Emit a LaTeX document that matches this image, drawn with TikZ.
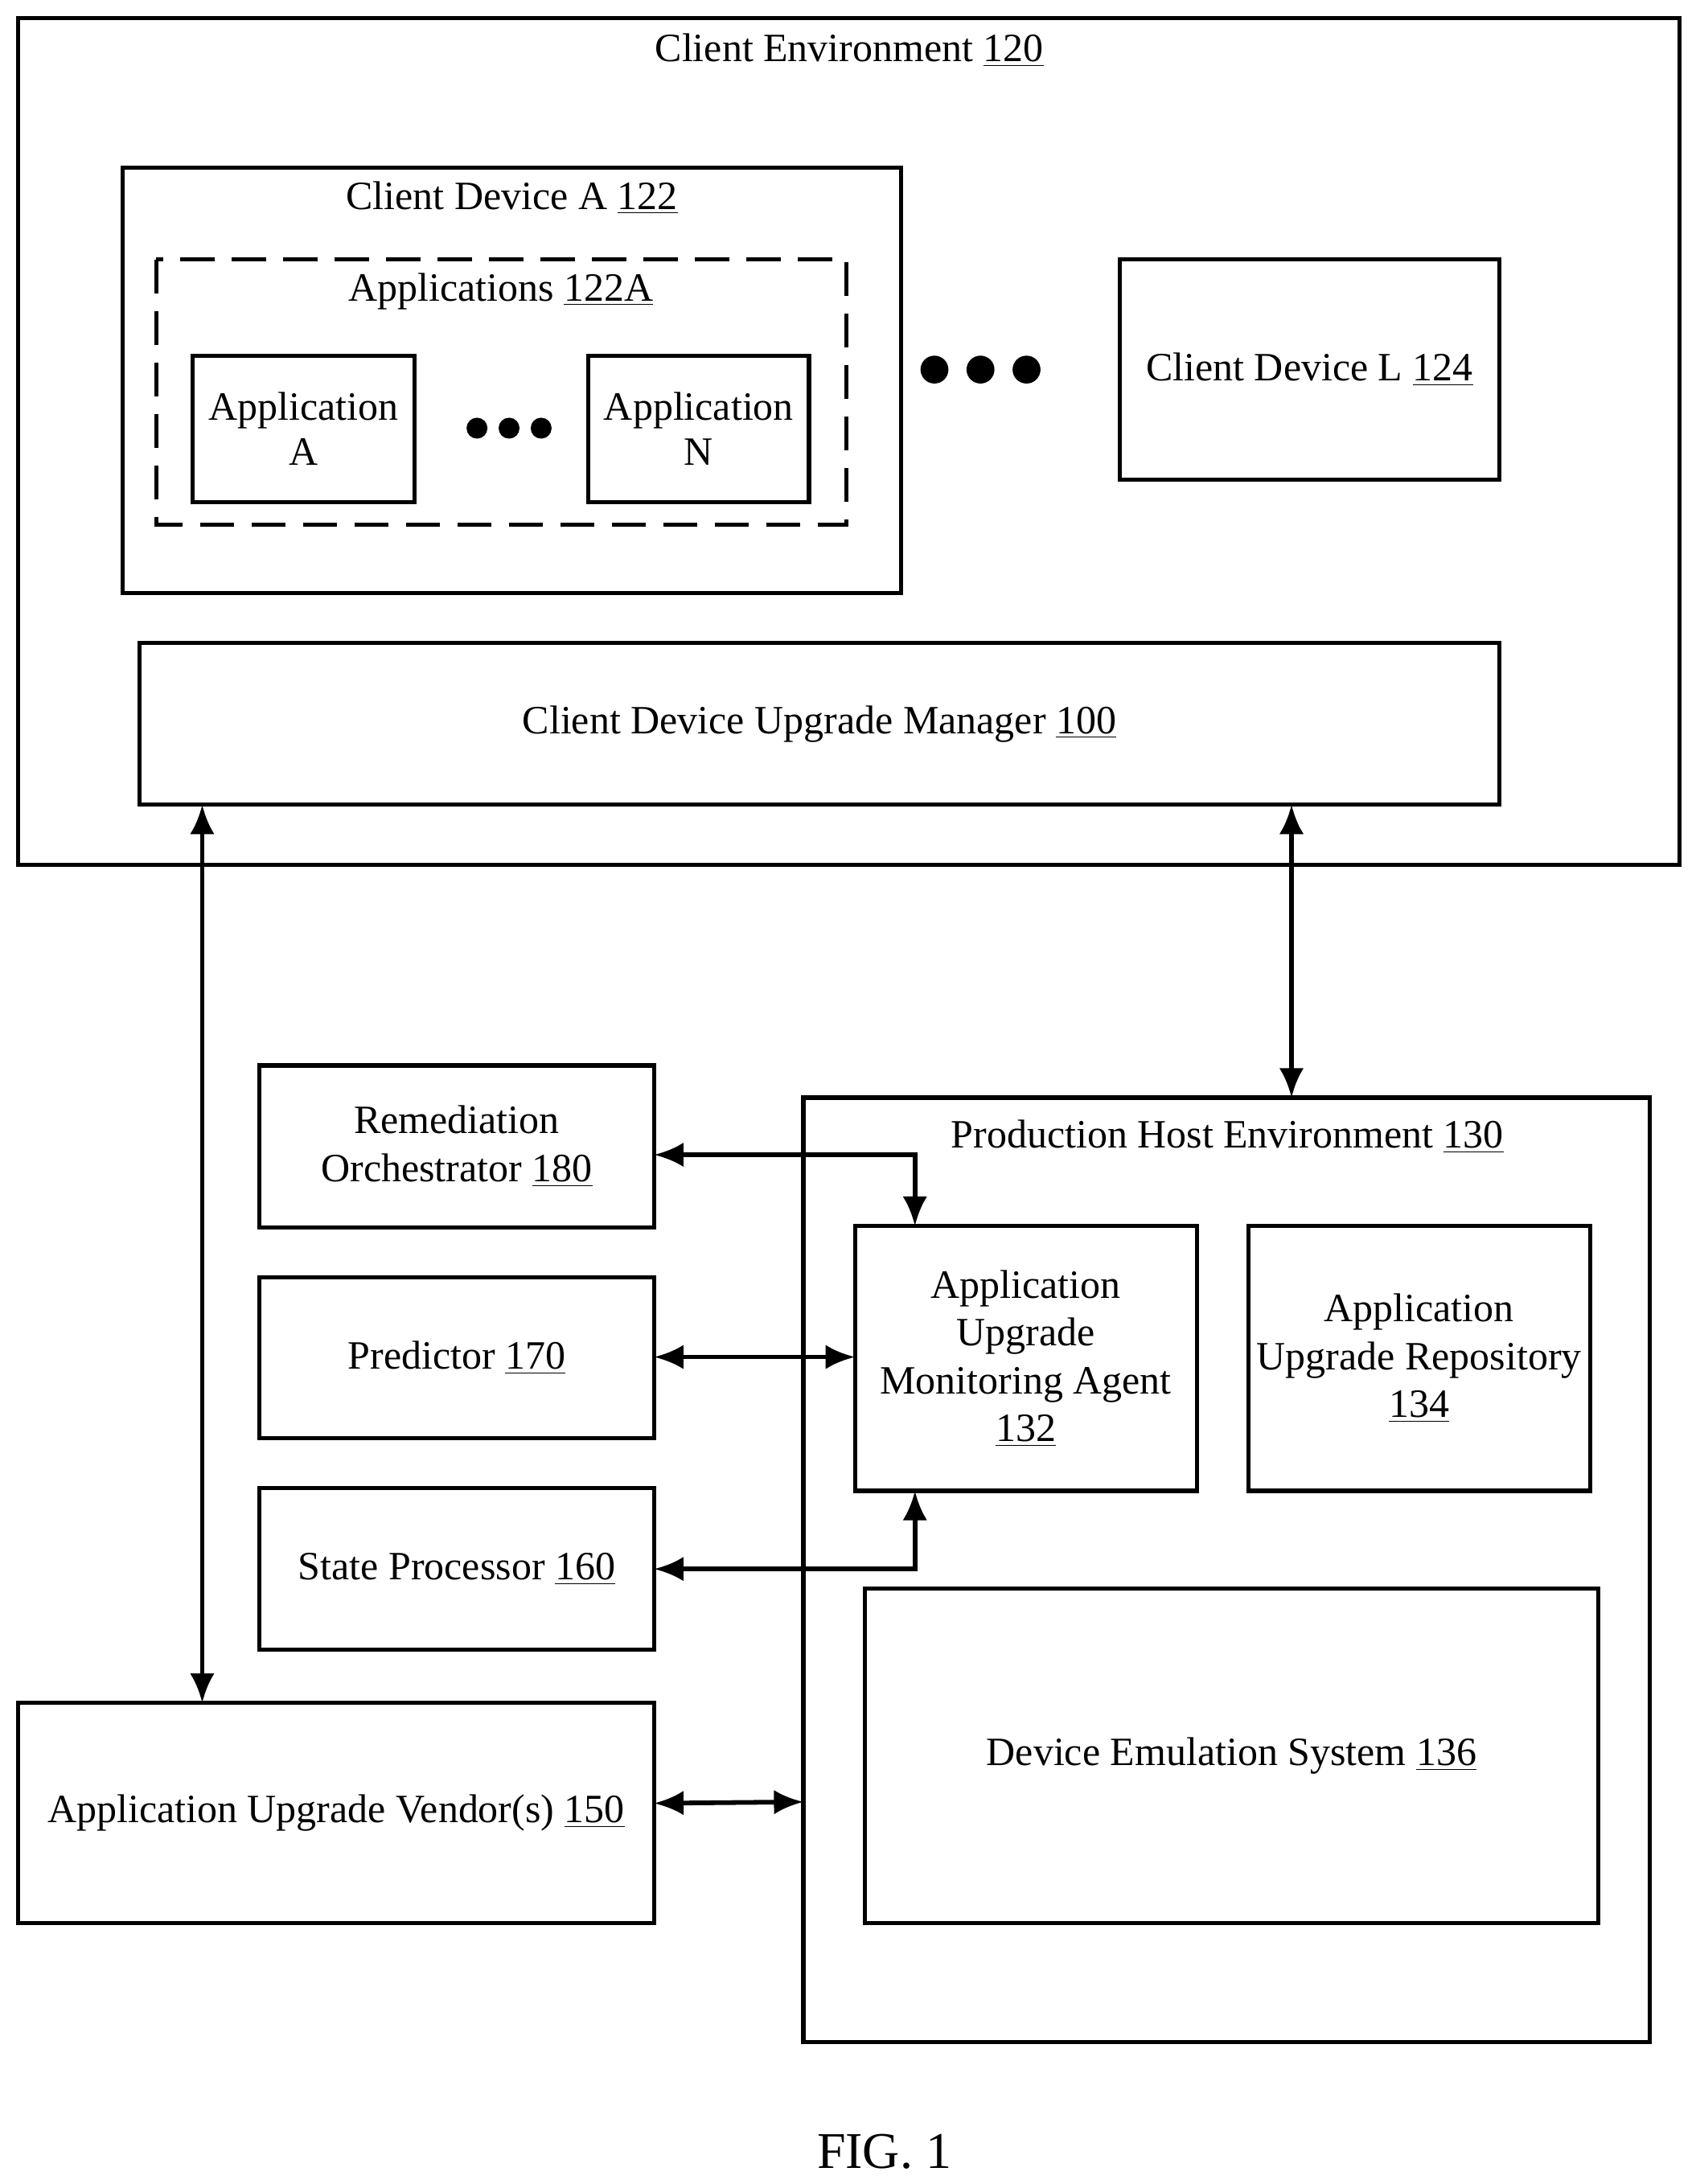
\documentclass[tikz,border=0pt]{standalone}
\usepackage{fontspec}
\setmainfont{Liberation Serif}
\usetikzlibrary{arrows.meta}
\begin{document}
\begin{tikzpicture}[x=0.02cm,y=-0.02cm,
  box/.style={draw,line width=1.7pt},
  lbl/.style={font=\fontsize{16.4}{19.5}\selectfont,align=center,inner sep=0pt},
  arr/.style={line width=1.9pt,{Latex[length=12pt,width=10pt]}-{Latex[length=12pt,width=10pt]}}]
\useasboundingbox (0,0) rectangle (1216,1566);
\draw[box] (13,13) rectangle (1204,620);
\node[lbl] (ce) at (609,36) {Client Environment \underline{120}};
\draw[box] (88,120) rectangle (646,425);
\node[lbl] (cda) at (367,142) {Client Device A \underline{122}};
\draw[line width=1.7pt,dash pattern=on 14pt off 7pt] (112,186) rectangle (607,376);
\node[lbl] (apps) at (359,209) {Applications \underline{122A}};
\draw[box] (138,255) rectangle (297,360);
\node[lbl] (aa) at (217.5,307.5) {Application\\[-1pt]A};
\draw[box] (422,255) rectangle (580,360);
\node[lbl] (an) at (501,307.5) {Application\\[-1pt]N};
\foreach \x in {342,365,388} \fill (\x,307) circle (7.5);
\foreach \x in {670,703,736} \fill (\x,265) circle (10);
\draw[box] (803,186) rectangle (1075,344);
\node[lbl] (cdl) at (939,265) {Client Device L \underline{124}};
\draw[box] (100,461) rectangle (1075,577);
\node[lbl] (cdum) at (587.5,519) {Client Device Upgrade Manager \underline{100}};
\draw[box] (186,764) rectangle (469,880);
\node[lbl] (rem) at (327.5,822) {Remediation\\Orchestrator \underline{180}};
\draw[box] (186,916) rectangle (469,1031);
\node[lbl] (pred) at (327.5,973.5) {Predictor \underline{170}};
\draw[box] (186,1067) rectangle (469,1183);
\node[lbl] (sp) at (327.5,1125) {State Processor \underline{160}};
\draw[box] (13,1221) rectangle (469,1379);
\node[lbl] (ven) at (241,1300) {Application Upgrade Vendor(s) \underline{150}};
\draw[box] (576,787) rectangle (1183,1464);
\node[lbl] (phe) at (880,815) {Production Host Environment \underline{130}};
\draw[box] (613,879) rectangle (858,1069);
\node[lbl] (auma) at (735.5,974) {Application\\Upgrade\\Monitoring Agent\\\underline{132}};
\draw[box] (895,879) rectangle (1140,1069);
\node[lbl] (repo) at (1017.5,974) {Application\\Upgrade Repository\\\underline{134}};
\draw[box] (620,1139) rectangle (1146,1379);
\node[lbl] (emu) at (883,1259) {Device Emulation System \underline{136}};
\node[font=\fontsize{21}{24}\selectfont,inner sep=0pt] (fig) at (634,1543) {FIG. 1};
\coordinate (a1) at (145,577); \coordinate (a2) at (145,1221);
\draw[arr] (a1) -- (a2);
\coordinate (b1) at (926,577); \coordinate (b2) at (926,787);
\draw[arr] (b1) -- (b2);
\coordinate (r1) at (469,828); \coordinate (r2) at (656,879);
\draw[arr] (r1) -| (r2);
\coordinate (p1) at (469,973); \coordinate (p2) at (613,973);
\draw[arr] (p1) -- (p2);
\coordinate (s1) at (469,1125); \coordinate (s2) at (656,1069);
\draw[arr] (s1) -| (s2);
\coordinate (v1) at (469,1293); \coordinate (v2) at (576,1292);
\draw[arr] (v1) -- (v2);
\end{tikzpicture}
\end{document}
